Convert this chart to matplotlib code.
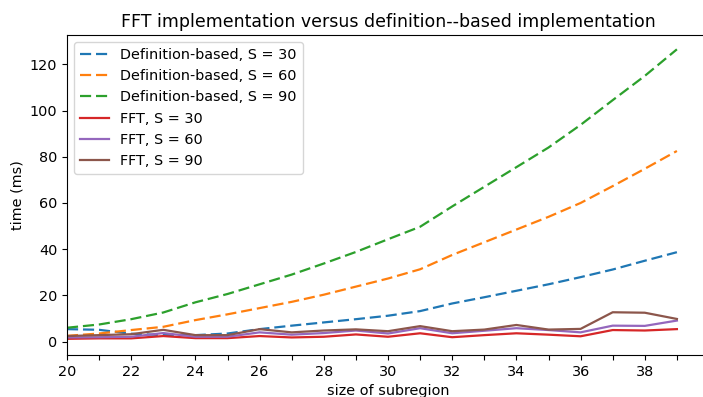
import matplotlib
matplotlib.use("Agg")
import matplotlib.pyplot as plt

plt.rcParams["font.size"] = 10.4
plt.rcParams["lines.linewidth"] = 1.6

sizes = list(range(20, 40))

def_s30 = [5.4, 5.1, 3.4, 2.8, 2.8, 3.5, 5.4, 6.9, 8.3, 9.7, 11.2, 13.2, 16.5, 19.2, 22.0, 24.8, 27.9, 31.2, 35.0, 38.7]
def_s60 = [2.5, 3.5, 5.0, 6.4, 9.3, 11.8, 14.5, 17.2, 20.3, 23.8, 27.3, 31.3, 37.5, 43.0, 48.5, 54.0, 60.0, 67.3, 74.8, 82.5]
def_s90 = [6.0, 7.4, 9.7, 12.6, 17.0, 20.6, 24.8, 29.0, 33.8, 38.8, 44.3, 49.7, 58.5, 67.0, 75.5, 84.0, 93.8, 104.5, 115.0, 126.5]
fft_s30 = [1.2, 1.4, 1.4, 2.4, 1.5, 1.5, 2.4, 1.8, 2.1, 3.1, 2.1, 3.6, 1.9, 2.8, 3.6, 3.0, 2.3, 5.0, 4.8, 5.4]
fft_s60 = [1.8, 1.9, 2.1, 3.7, 2.1, 2.1, 4.0, 3.0, 3.7, 4.8, 3.5, 5.8, 3.6, 4.7, 5.8, 5.0, 4.0, 6.9, 6.8, 9.1]
fft_s90 = [2.4, 2.8, 3.2, 5.1, 2.8, 2.8, 5.4, 4.0, 4.8, 5.3, 4.5, 6.7, 4.5, 5.2, 7.2, 5.2, 5.5, 12.7, 12.5, 9.8]

labels = ["Definition-based, S = 30", "Definition-based, S = 60", "Definition-based, S = 90",
          "FFT, S = 30", "FFT, S = 60", "FFT, S = 90"]
colors = ["#1f77b4", "#ff7f0e", "#2ca02c", "#d62728", "#9467bd", "#8c564b"]

fig = plt.figure(figsize=(7.03, 3.97), dpi=100)
ax = fig.add_axes([67/703, (397-355)/397, (709-67)/703, (355-35)/397])

for ys, lab, c in zip([def_s30, def_s60, def_s90], labels[:3], colors[:3]):
    ax.plot(sizes, ys, linestyle=(0, (5, 2.2)), color=c, label=lab)
for ys, lab, c in zip([fft_s30, fft_s60, fft_s90], labels[3:], colors[3:]):
    ax.plot(sizes, ys, linestyle="-", color=c, label=lab)

ax.set_xlim(20, 40)
ax.set_xticks(sizes)
ax.set_xticklabels([str(s) if s % 2 == 0 else "" for s in sizes])
ax.set_ylim(-5.8, 132.7)
ax.set_yticks([0, 20, 40, 60, 80, 100, 120])
ax.set_xlabel("size of subregion")
ax.set_ylabel("time (ms)")
ax.set_title("FFT implementation versus definition--based implementation", fontsize=12.5)
ax.legend(loc="upper left")

fig.savefig("out.png", dpi=100)
